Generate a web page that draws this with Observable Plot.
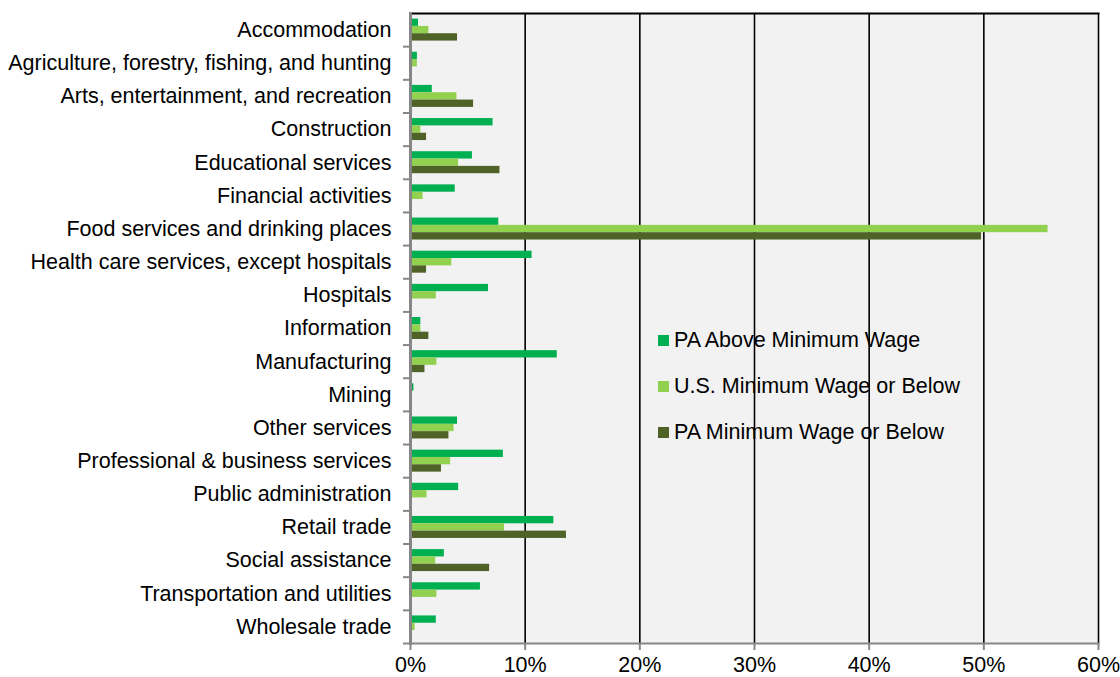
<!DOCTYPE html>
<html>
<head>
<meta charset="utf-8">
<script src="https://cdn.jsdelivr.net/npm/d3@7"></script>
<script src="https://cdn.jsdelivr.net/npm/@observablehq/plot@0.6"></script>
<style>
  html, body { margin: 0; padding: 0; background: #fff; }
  #wrap { position: relative; width: 1120px; height: 677px; font-family: "Liberation Sans", Arial, sans-serif; }
  #legend { position: absolute; left: 658px; top: 317px; font-size: 21.5px; color: #000; }
  #legend .row { display: flex; align-items: center; height: 46px; }
  #legend .sw { width: 11px; height: 11px; margin-right: 5px; }
</style>
</head>
<body>
<div id="wrap"></div>
<script>
const categories = [
  "Accommodation",
  "Agriculture, forestry, fishing, and hunting",
  "Arts, entertainment, and recreation",
  "Construction",
  "Educational services",
  "Financial activities",
  "Food services and drinking places",
  "Health care services, except hospitals",
  "Hospitals",
  "Information",
  "Manufacturing",
  "Mining",
  "Other services",
  "Professional & business services",
  "Public administration",
  "Retail trade",
  "Social assistance",
  "Transportation and utilities",
  "Wholesale trade"
];
const seriesNames = ["PA Above Minimum Wage", "U.S. Minimum Wage or Below", "PA Minimum Wage or Below"];
const seriesColors = ["#00B050", "#92D050", "#4F6228"];
const paAbove = [0.7, 0.6, 1.9, 7.2, 5.4, 3.9, 7.7, 10.6, 6.8, 0.9, 12.8, 0.3, 4.1, 8.1, 4.2, 12.5, 2.95, 6.1, 2.25];
const usMin   = [1.6, 0.6, 4.05, 0.9, 4.2, 1.1, 55.6, 3.6, 2.25, 0.9, 2.3, 0, 3.8, 3.5, 1.44, 8.2, 2.2, 2.3, 0.4];
const paMin   = [4.1, 0, 5.5, 1.4, 7.8, 0, 49.8, 1.4, 0, 1.6, 1.26, 0, 3.35, 2.7, 0, 13.6, 6.9, 0, 0];
const xTicks = [0, 10, 20, 30, 40, 50, 60];
const gridTicks = [10, 20, 30, 40, 50, 60];

const seriesValues = [paAbove, usMin, paMin];
const W = 1120, H = 677, mT = 13, mB = 34, mL = 410, mR = 22;
const step = (H - mT - mB) / categories.length;
const barH = 7.33;
const off = (step - 3 * barH) / 2;

const rows = categories.map((c, i) => ({category: c, v0: paAbove[i], v1: usMin[i], v2: paMin[i]}));

const barMarks = seriesValues.map((vals, s) =>
  Plot.barX(rows, {
    y: "category",
    x: "v" + s,
    fill: seriesColors[s],
    insetTop: off + s * barH,
    insetBottom: step - off - (s + 1) * barH
  })
);

const chart = Plot.plot({
  width: W,
  height: H,
  marginTop: mT,
  marginBottom: mB,
  marginLeft: mL,
  marginRight: mR,
  style: {fontFamily: "'Liberation Sans', Arial, sans-serif", fontSize: "21.5px", background: "transparent", color: "#000"},
  x: {domain: [0, 60], label: null},
  y: {domain: categories, padding: 0, round: false, label: null},
  marks: [
    Plot.frame({fill: "#F2F2F2", stroke: null}),
    Plot.ruleX(gridTicks, {stroke: "#000", strokeWidth: 1.6}),
    Plot.frame({anchor: "top", stroke: "#000", strokeWidth: 2}),
    ...barMarks,
    Plot.axisY({tickSize: 0, tickPadding: 19, fontSize: 21.5, label: null}),
    Plot.axisY({tickSize: 7, tickFormat: () => "", dy: step / 2, stroke: "#868686", strokeWidth: 2, label: null}),
    Plot.axisX({ticks: xTicks, tickSize: 7, tickPadding: 6, tickFormat: d => d + "%", fontSize: 21.5, stroke: "#868686", strokeWidth: 2, label: null}),
    Plot.frame({anchor: "bottom", stroke: "#868686", strokeWidth: 2}),
    Plot.frame({anchor: "left", stroke: "#868686", strokeWidth: 3})
  ]
});

const wrap = document.getElementById("wrap");
wrap.appendChild(chart);
chart.querySelectorAll("text").forEach(t => t.setAttribute("fill", "#000"));

const legend = document.createElement("div");
legend.id = "legend";
seriesNames.forEach((n, i) => {
  const r = document.createElement("div");
  r.className = "row";
  const sw = document.createElement("div");
  sw.className = "sw";
  sw.style.background = seriesColors[i];
  const tx = document.createElement("span");
  tx.textContent = n;
  r.appendChild(sw);
  r.appendChild(tx);
  legend.appendChild(r);
});
wrap.appendChild(legend);
</script>
</body>
</html>
